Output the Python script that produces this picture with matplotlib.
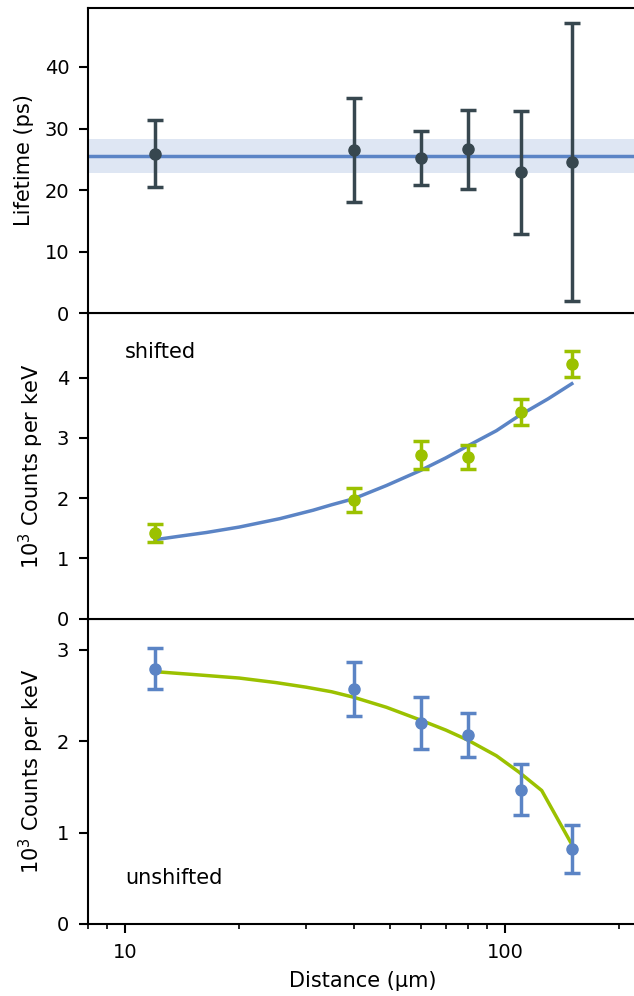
import matplotlib
matplotlib.use('Agg')
import matplotlib.pyplot as plt
from matplotlib.ticker import FormatStrFormatter, NullFormatter

BLUE = '#5b84c5'
GREEN = '#9bc100'
DARK = '#37474f'

# measured points
distance = [12, 40, 60, 80, 110, 150]
lifetime = [25.9, 26.5, 25.2, 26.6, 22.9, 24.6]
lifetime_err = [5.45, 8.4, 4.4, 6.35, 9.95, 22.6]
lifetime_mean = 25.6
lifetime_mean_err = 2.75

shifted = [1.42, 1.97, 2.72, 2.69, 3.43, 4.23]
shifted_err = [0.155, 0.2, 0.23, 0.2, 0.22, 0.22]
unshifted = [2.79, 2.57, 2.20, 2.07, 1.47, 0.82]
unshifted_err = [0.225, 0.3, 0.285, 0.24, 0.28, 0.26]

# fit curves
fit_shift_x = [12, 14, 16.4, 20, 25.6, 31.3, 35, 40, 48.8, 60, 70, 80, 95, 109, 130, 150]
fit_shift_y = [1.31, 1.37, 1.43, 1.52, 1.66, 1.80, 1.89, 1.99, 2.21, 2.46, 2.67, 2.87,
               3.12, 3.37, 3.65, 3.90]
fit_unshift_x = [12, 15, 20, 25, 30, 35, 40, 48.8, 60, 70, 80, 95, 109, 125, 150]
fit_unshift_y = [2.76, 2.73, 2.69, 2.64, 2.59, 2.54, 2.48, 2.37, 2.23, 2.12, 2.01, 1.84,
                 1.66, 1.46, 0.87]

plt.rcParams['font.size'] = 15
plt.rcParams['xtick.labelsize'] = 14
plt.rcParams['ytick.labelsize'] = 14

fig = plt.figure(figsize=(6.34, 9.96), dpi=100)
left, width, h = 0.1388, 0.8675, 0.3066
bottom0 = 0.0723
ax3 = fig.add_axes([left, bottom0, width, h])
ax2 = fig.add_axes([left, bottom0 + h, width, h], sharex=ax3)
ax1 = fig.add_axes([left, bottom0 + 2 * h, width, h], sharex=ax3)

eb = dict(fmt='o', ms=8, elinewidth=2.5, capsize=5.5, capthick=2.5)

ax1.axhline(lifetime_mean, color=BLUE, lw=2.5, zorder=1)
ax1.axhspan(lifetime_mean - lifetime_mean_err, lifetime_mean + lifetime_mean_err,
            color=BLUE, alpha=0.2, lw=0, zorder=0)
ax1.errorbar(distance, lifetime, yerr=lifetime_err, color=DARK, **eb)
ax1.set_ylim(0, 49.6)
ax1.set_yticks([0, 10, 20, 30, 40])
ax1.set_ylabel('Lifetime (ps)', labelpad=8)

ax2.plot(fit_shift_x, fit_shift_y, color=BLUE, lw=2.5)
ax2.errorbar(distance, shifted, yerr=shifted_err, color=GREEN, **eb)
ax2.set_ylim(0, 5.07)
ax2.set_yticks([0, 1, 2, 3, 4])
ax2.set_ylabel('10$^3$ Counts per keV', labelpad=8)
ax2.text(10, 4.43, 'shifted', va='center')

ax3.plot(fit_unshift_x, fit_unshift_y, color=GREEN, lw=2.5)
ax3.errorbar(distance, unshifted, yerr=unshifted_err, color=BLUE, **eb)
ax3.set_ylim(0, 3.34)
ax3.set_yticks([0, 1, 2, 3])
ax3.set_ylabel('10$^3$ Counts per keV', labelpad=8)
ax3.text(10, 0.5, 'unshifted', va='center')

ax3.set_xscale('log')
ax3.set_xlim(8, 224)
ax3.xaxis.set_major_formatter(FormatStrFormatter('%g'))
ax3.xaxis.set_minor_formatter(NullFormatter())
ax3.set_xlabel('Distance (µm)', labelpad=7)

for ax in (ax1, ax2):
    ax.tick_params(axis='x', which='both', bottom=False, labelbottom=False)
for ax in (ax1, ax2, ax3):
    for s in ax.spines.values():
        s.set_linewidth(1.5)
    ax.tick_params(width=1.5, length=6.5, pad=7)
    ax.tick_params(which='minor', width=1.2, length=3.5)

fig.savefig('out.png', dpi=100)
